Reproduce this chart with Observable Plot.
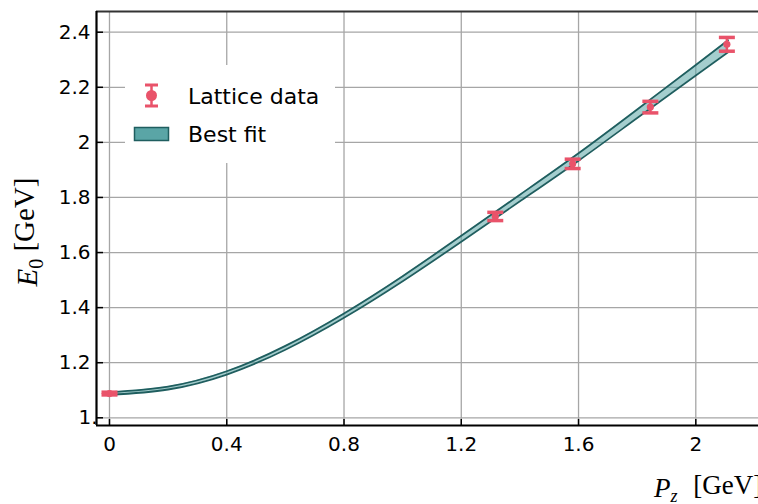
<!DOCTYPE html>
<html>
<head>
<meta charset="utf-8">
<script src="https://cdn.jsdelivr.net/npm/d3@7"></script>
<script src="https://cdn.jsdelivr.net/npm/@observablehq/plot@0.6"></script>
<style>
  html, body { margin: 0; padding: 0; background: white; overflow: hidden; }
  #wrap { position: relative; width: 758px; height: 504px; overflow: hidden; }
  #legend { position: absolute; left: 125px; top: 65px; }
</style>
</head>
<body>
<div id="wrap"></div>
<script>
// ---- data ----
const latticeP = [0, 1.316, 1.58, 1.845, 2.106];
const latticeE = [1.088, 1.731, 1.922, 2.128, 2.356];
const latticeErr = [0.005, 0.015, 0.017, 0.021, 0.025];

const fitP = [0, 0.2, 0.4, 0.6, 0.8, 1.0, 1.2, 1.4, 1.6, 1.8, 2.0, 2.11];
const fitLower = [1.083, 1.1027, 1.157, 1.247, 1.363, 1.4957, 1.6393, 1.786, 1.9335, 2.0885, 2.243, 2.327];
const fitUpper = [1.093, 1.1133, 1.169, 1.261, 1.379, 1.5143, 1.6607, 1.810, 1.9605, 2.1195, 2.281, 2.371];

const xTicks = [0, 0.4, 0.8, 1.2, 1.6, 2];
const xTickLabels = ["0", "0.4", "0.8", "1.2", "1.6", "2"];
const yTicks = [1.0, 1.2, 1.4, 1.6, 1.8, 2.0, 2.2, 2.4];
const yTickLabels = ["1.", "1.2", "1.4", "1.6", "1.8", "2", "2.2", "2.4"];

const xDomain = [-0.0443, 2.2139];
const yDomain = [0.972, 2.4752];

// ---- derived tables ----
const lattice = latticeP.map((p, i) => ({p, e: latticeE[i], lo: latticeE[i] - latticeErr[i], hi: latticeE[i] + latticeErr[i]}));
const fit = fitP.map((p, i) => ({p, lo: fitLower[i], hi: fitUpper[i]}));
const xLab = new Map(xTicks.map((t, i) => [t, xTickLabels[i]]));
const yLab = new Map(yTicks.map((t, i) => [t, yTickLabels[i]]));

const RED = "#e9536a";
const TEAL = "#5aa5a6";
const TEAL_DARK = "#1f5e5f";
const GRID = "#a6a6a6";

const hline = {draw(ctx, size) { const r = Math.sqrt(size / Math.PI); ctx.moveTo(-r, 0); ctx.lineTo(r, 0); }};
const tickRight = {draw(ctx, size) { const r = Math.sqrt(size / Math.PI); ctx.moveTo(0, 0); ctx.lineTo(r, 0); }};
const tickUp = {draw(ctx, size) { const r = Math.sqrt(size / Math.PI); ctx.moveTo(0, 0); ctx.lineTo(0, -r); }};

const chart = Plot.plot({
  width: 758,
  height: 504,
  marginLeft: 96,
  marginRight: 0,
  marginTop: 11,
  marginBottom: 79,
  style: {fontFamily: "'DejaVu Sans', sans-serif", fontSize: "20px", color: "black", background: "white", overflow: "visible"},
  x: {domain: xDomain},
  y: {domain: yDomain},
  marks: [
    Plot.gridX(xTicks, {stroke: GRID, strokeOpacity: 1, strokeWidth: 1.3}),
    Plot.gridY(yTicks, {stroke: GRID, strokeOpacity: 1, strokeWidth: 1.3}),
    // best fit band
    Plot.areaY(fit, {x: "p", y1: "lo", y2: "hi", fill: TEAL, fillOpacity: 0.55, curve: "natural"}),
    Plot.line(fit, {x: "p", y: "lo", stroke: TEAL_DARK, strokeWidth: 1.8, curve: "natural"}),
    Plot.line(fit, {x: "p", y: "hi", stroke: TEAL_DARK, strokeWidth: 1.8, curve: "natural"}),
    // lattice data (on top of the band)
    Plot.ruleX(lattice, {x: "p", y1: "lo", y2: "hi", stroke: RED, strokeWidth: 2.5}),
    Plot.dot(lattice, {x: "p", y: "lo", symbol: hline, r: 8, stroke: RED, strokeWidth: 3.5, fill: "none"}),
    Plot.dot(lattice, {x: "p", y: "hi", symbol: hline, r: 8, stroke: RED, strokeWidth: 3.5, fill: "none"}),
    Plot.dot(lattice, {x: "p", y: "e", r: 3.6, fill: RED, stroke: "none"}),
    // spines
    Plot.ruleY([yDomain[1]], {stroke: "#333", strokeWidth: 2.2}),
    Plot.ruleX([xDomain[0]], {stroke: "black", strokeWidth: 2.2}),
    Plot.ruleY([yDomain[0]], {stroke: "black", strokeWidth: 2.2}),
    // inward ticks
    Plot.dot(yTicks, {x: xDomain[0], y: d => d, symbol: tickRight, r: 6.5, stroke: "black", strokeWidth: 1.5, fill: "none"}),
    Plot.dot(xTicks, {x: d => d, y: yDomain[0], symbol: tickUp, r: 6.5, stroke: "black", strokeWidth: 1.5, fill: "none"}),
    // tick labels
    Plot.axisX({ticks: xTicks, tickFormat: d => xLab.get(d), tickSize: 0, tickPadding: 11, label: null, fontSize: 20}),
    Plot.axisY({ticks: yTicks.slice(1), tickFormat: d => yLab.get(d), tickSize: 0, tickPadding: 6, label: null, fontSize: 20}),
    Plot.text(yTicks.slice(0, 1), {x: xDomain[0], y: d => d, text: d => yLab.get(d), textAnchor: "end", dx: 1, fontSize: 20})
  ]
});

const wrap = document.getElementById("wrap");
wrap.appendChild(chart);

// axis titles (mathtext-like serif)
const svg = d3.select(chart);
const yTitle = svg.append("text")
  .attr("transform", "translate(37,232) rotate(-90)")
  .attr("text-anchor", "middle")
  .style("font-family", "'Liberation Serif', serif")
  .style("font-size", "29px")
  .attr("fill", "black");
yTitle.append("tspan").style("font-style", "italic").text("E");
yTitle.append("tspan").attr("dy", "0.28em").style("font-size", "20px").text("0");
yTitle.append("tspan").attr("dy", "-0.28em").text(" [GeV]");

const xTitle = svg.append("text")
  .attr("x", 654).attr("y", 497)
  .attr("text-anchor", "start")
  .style("font-family", "'Liberation Serif', serif")
  .style("font-size", "27px")
  .attr("fill", "black");
xTitle.append("tspan").style("font-style", "italic").text("P");
xTitle.append("tspan").attr("dy", "0.28em").style("font-size", "18px").style("font-style", "italic").text("z");
xTitle.append("tspan").attr("dy", "-0.28em").attr("dx", 9).text(" [GeV]");

// legend overlay
const leg = d3.select(wrap).append("svg")
  .attr("id", "legend")
  .attr("width", 210).attr("height", 98)
  .style("background", "white");
leg.append("line").attr("x1", 26.5).attr("x2", 26.5).attr("y1", 20).attr("y2", 41).attr("stroke", RED).attr("stroke-width", 2.5);
leg.append("line").attr("x1", 20).attr("x2", 33).attr("y1", 20).attr("y2", 20).attr("stroke", RED).attr("stroke-width", 3);
leg.append("line").attr("x1", 20).attr("x2", 33).attr("y1", 41).attr("y2", 41).attr("stroke", RED).attr("stroke-width", 3);
leg.append("circle").attr("cx", 26.5).attr("cy", 30.5).attr("r", 5.5).attr("fill", RED);
leg.append("text").attr("x", 63).attr("y", 38.5)
  .style("font-family", "'DejaVu Sans', sans-serif").style("font-size", "22px").attr("fill", "black").text("Lattice data");
leg.append("rect").attr("x", 9.5).attr("y", 62.5).attr("width", 34).attr("height", 13)
  .attr("fill", TEAL).attr("stroke", TEAL_DARK).attr("stroke-width", 1.5);
leg.append("text").attr("x", 63).attr("y", 76.5)
  .style("font-family", "'DejaVu Sans', sans-serif").style("font-size", "22px").attr("fill", "black").text("Best fit");
</script>
</body>
</html>
